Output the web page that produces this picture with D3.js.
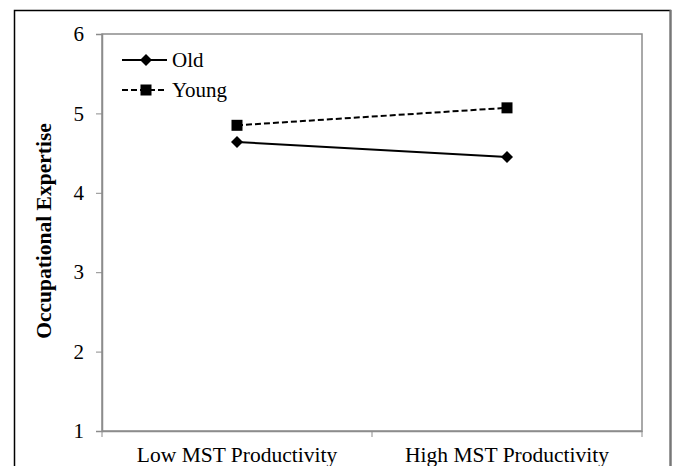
<!DOCTYPE html>
<html><head><meta charset="utf-8">
<script src="https://cdn.jsdelivr.net/npm/d3@7"></script>
<style>body{margin:0;background:#fff}svg{display:block}</style>
</head><body>
<svg id="c" width="673" height="466"></svg>
<script>
const categories = ["Low MST Productivity", "High MST Productivity"];
const seriesNames = ["Old", "Young"];
const oldValues = [4.64, 4.45];
const youngValues = [4.85, 5.07];
const yTicks = [1, 2, 3, 4, 5, 6];
const yTitle = "Occupational Expertise";

const svg = d3.select("#c");
const font = "'Liberation Serif','Times New Roman',serif";
const m = {left: 102, right: 642, top: 34, bottom: 431};

// outer frame
svg.append("rect").attr("x", 14.5).attr("y", 10.5).attr("width", 656).attr("height", 480)
  .attr("fill", "none").attr("stroke", "#000").attr("stroke-width", 1.5);
svg.append("line").attr("x1", 670.5).attr("x2", 670.5).attr("y1", 10).attr("y2", 466)
  .attr("stroke", "#777").attr("stroke-width", 2);

const x = d3.scaleBand().domain(categories).range([m.left, m.right]);
const y = d3.scaleLinear().domain([1, 6]).range([m.bottom, m.top]);

// plot area border
svg.append("rect").attr("x", m.left).attr("y", m.top).attr("width", m.right - m.left).attr("height", m.bottom - m.top)
  .attr("fill", "none").attr("stroke", "#8c8c8c").attr("stroke-width", 1.5);

// y axis
const ya = svg.append("g").attr("transform", `translate(${m.left},0)`)
  .call(d3.axisLeft(y).tickValues(yTicks).tickSize(6).tickPadding(12).tickFormat(d3.format("d")));
ya.select(".domain").attr("stroke", "#8c8c8c").attr("stroke-width", 1.5);
ya.selectAll(".tick line").attr("stroke", "#8c8c8c");
ya.selectAll("text").attr("font-family", font).attr("font-size", 21).attr("fill", "#000");

// x axis
const xa = svg.append("g").attr("transform", `translate(0,${m.bottom})`)
  .call(d3.axisBottom(x).tickSize(0).tickPadding(16));
xa.select(".domain").attr("stroke", "#8c8c8c").attr("stroke-width", 1.5);
xa.selectAll("text").attr("font-family", font).attr("font-size", 21.5).attr("fill", "#000");
const bounds = [m.left, ...categories.map(c => x(c) + x.bandwidth())];
svg.append("g").selectAll("line").data(bounds).join("line")
  .attr("x1", d => d).attr("x2", d => d).attr("y1", m.bottom).attr("y2", m.bottom + 6)
  .attr("stroke", "#8c8c8c");

// y title
svg.append("text").attr("transform", `translate(51,231) rotate(-90)`)
  .attr("text-anchor", "middle").attr("font-family", font).attr("font-weight", "bold")
  .attr("font-size", 21.5).text(yTitle);

const cx = c => x(c) + x.bandwidth() / 2;
const line = d3.line().x(d => cx(d.c)).y(d => y(d.v));
const oldData = categories.map((c, i) => ({c, v: oldValues[i]}));
const youngData = categories.map((c, i) => ({c, v: youngValues[i]}));

function drawDiamond(g, px, py) {
  g.append("path").attr("d", "M0,-6L6,0L0,6L-6,0Z").attr("transform", `translate(${px},${py})`).attr("fill", "#000");
}
function drawSquare(g, px, py) {
  g.append("rect").attr("x", px - 5.5).attr("y", py - 5.5).attr("width", 11).attr("height", 11).attr("fill", "#000");
}

svg.append("path").datum(youngData).attr("d", line).attr("fill", "none").attr("stroke", "#000")
  .attr("stroke-width", 2).attr("stroke-dasharray", "6,3");
svg.append("path").datum(oldData).attr("d", line).attr("fill", "none").attr("stroke", "#000")
  .attr("stroke-width", 2);
const gm = svg.append("g");
oldData.forEach(d => drawDiamond(gm, cx(d.c), y(d.v)));
youngData.forEach(d => drawSquare(gm, cx(d.c), y(d.v)));

// legend
const leg = svg.append("g");
const legY = [60, 90];
seriesNames.forEach((n, i) => {
  leg.append("line").attr("x1", 122).attr("x2", 167).attr("y1", legY[i]).attr("y2", legY[i])
    .attr("stroke", "#000").attr("stroke-width", 2).attr("stroke-dasharray", i ? "6,3" : null);
  if (i === 0) drawDiamond(leg, 146, legY[i]); else drawSquare(leg, 146, legY[i]);
  leg.append("text").attr("x", 172).attr("y", legY[i] + 7).attr("font-family", font)
    .attr("font-size", 21).text(n);
});
</script>
</body></html>
